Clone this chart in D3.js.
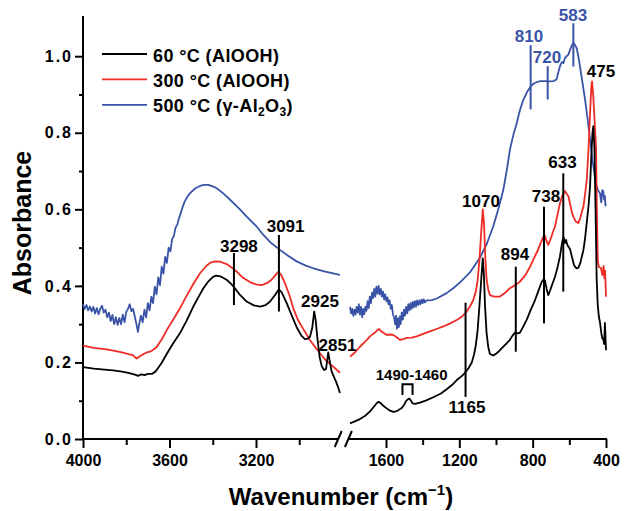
<!DOCTYPE html>
<html>
<head>
<meta charset="utf-8">
<script src="https://cdn.jsdelivr.net/npm/d3@7"></script>
<style>
body { margin: 0; background: #fff; }
svg text { font-family: "Liberation Sans", Arial, Helvetica, sans-serif; font-weight: bold; }
</style>
</head>
<body>
<svg id="chart" width="624" height="511"></svg>
<script>
// series names / colours
var seriesNames = ["60 °C (AlOOH)", "300 °C (AlOOH)", "500 °C (γ-Al2O3)"];
var seriesColors = ["#000000", "#ee2b24", "#3a53a6"];

// spectra, [wavenumber, absorbance], high-wavenumber part (4000-2800)
var black60Left = [[4000,0.188],[3950,0.184],[3900,0.181],[3860,0.179],[3820,0.176],[3790,0.173],[3760,0.168],[3745,0.165],[3730,0.169],[3715,0.167],[3700,0.170],[3682,0.170],[3665,0.176],[3652,0.186],[3635,0.200],[3613,0.222],[3585,0.248],[3552,0.276],[3520,0.310],[3490,0.346],[3465,0.372],[3444,0.393],[3420,0.412],[3400,0.423],[3385,0.427],[3365,0.425],[3336,0.416],[3315,0.405],[3302,0.397],[3275,0.377],[3243,0.359],[3210,0.349],[3182,0.346],[3155,0.350],[3135,0.359],[3112,0.376],[3094,0.391],[3080,0.382],[3058,0.355],[3035,0.323],[3012,0.292],[2990,0.270],[2974,0.261],[2960,0.262],[2950,0.268],[2940,0.290],[2931,0.333],[2924,0.310],[2917,0.268],[2906,0.215],[2896,0.190],[2885,0.180],[2876,0.183],[2866,0.226],[2858,0.200],[2850,0.176],[2840,0.163],[2830,0.150],[2820,0.135],[2812,0.120]];
var red300Left = [[4000,0.244],[3950,0.238],[3900,0.235],[3860,0.231],[3820,0.226],[3790,0.222],[3770,0.219],[3752,0.210],[3740,0.215],[3720,0.222],[3705,0.226],[3690,0.228],[3675,0.233],[3660,0.240],[3648,0.250],[3636,0.260],[3610,0.287],[3582,0.313],[3550,0.343],[3521,0.374],[3490,0.405],[3459,0.433],[3430,0.452],[3410,0.461],[3390,0.464],[3365,0.463],[3336,0.457],[3310,0.447],[3289,0.437],[3260,0.421],[3228,0.410],[3200,0.404],[3174,0.402],[3150,0.407],[3128,0.416],[3110,0.428],[3097,0.437],[3085,0.430],[3066,0.407],[3045,0.375],[3028,0.342],[3005,0.310],[2981,0.287],[2950,0.258],[2920,0.235],[2880,0.207],[2843,0.189],[2812,0.173]];
var blue500Left = [[4000,0.352],[3992,0.340],[3984,0.350],[3976,0.336],[3968,0.346],[3960,0.333],[3952,0.345],[3944,0.328],[3936,0.342],[3928,0.326],[3920,0.340],[3912,0.348],[3904,0.330],[3896,0.338],[3888,0.318],[3880,0.330],[3872,0.308],[3864,0.324],[3856,0.300],[3848,0.318],[3840,0.298],[3832,0.316],[3824,0.300],[3816,0.325],[3808,0.305],[3800,0.332],[3792,0.340],[3784,0.352],[3776,0.334],[3768,0.340],[3760,0.318],[3752,0.298],[3746,0.280],[3740,0.300],[3732,0.322],[3724,0.305],[3716,0.338],[3708,0.318],[3700,0.355],[3692,0.336],[3684,0.372],[3676,0.355],[3668,0.398],[3660,0.378],[3652,0.422],[3644,0.402],[3636,0.450],[3628,0.432],[3620,0.476],[3612,0.460],[3604,0.500],[3596,0.490],[3588,0.522],[3580,0.530],[3572,0.552],[3564,0.560],[3556,0.577],[3548,0.590],[3540,0.605],[3530,0.620],[3515,0.635],[3500,0.645],[3480,0.655],[3459,0.661],[3440,0.664],[3421,0.664],[3400,0.660],[3382,0.655],[3350,0.641],[3320,0.625],[3280,0.603],[3243,0.581],[3200,0.557],[3166,0.533],[3130,0.512],[3089,0.494],[3050,0.478],[3012,0.464],[2970,0.453],[2935,0.446],[2880,0.437],[2812,0.429]];

// low-wavenumber part (1800-400)
var black60Right = [[1796,0.041],[1770,0.046],[1742,0.052],[1715,0.060],[1687,0.072],[1665,0.085],[1650,0.094],[1640,0.097],[1630,0.094],[1615,0.087],[1596,0.080],[1578,0.074],[1560,0.071],[1540,0.073],[1514,0.081],[1500,0.090],[1491,0.099],[1480,0.104],[1473,0.106],[1465,0.101],[1455,0.093],[1440,0.092],[1415,0.095],[1380,0.101],[1342,0.109],[1300,0.119],[1269,0.130],[1240,0.141],[1214,0.154],[1190,0.163],[1169,0.173],[1150,0.185],[1132,0.200],[1120,0.220],[1110,0.245],[1100,0.285],[1090,0.350],[1080,0.420],[1072,0.472],[1066,0.430],[1060,0.350],[1051,0.275],[1042,0.240],[1033,0.222],[1015,0.218],[996,0.224],[978,0.232],[960,0.241],[942,0.250],[924,0.259],[910,0.270],[896,0.278],[880,0.276],[869,0.278],[850,0.295],[832,0.312],[810,0.338],[787,0.363],[770,0.385],[751,0.410],[740,0.417],[733,0.414],[724,0.392],[715,0.376],[705,0.388],[690,0.408],[678,0.424],[665,0.447],[651,0.477],[642,0.505],[636,0.522],[630,0.526],[624,0.512],[618,0.520],[610,0.506],[596,0.496],[585,0.474],[575,0.455],[569,0.450],[560,0.446],[551,0.447],[540,0.460],[530,0.480],[523,0.494],[514,0.525],[505,0.565],[495,0.610],[487,0.660],[480,0.740],[474,0.800],[469,0.817],[463,0.760],[457,0.600],[451,0.420],[445,0.350],[439,0.320],[433,0.305],[425,0.275],[419,0.262],[415,0.262],[410,0.248],[406,0.303],[403,0.270],[400,0.232]];
var red300Right = [[1796,0.215],[1770,0.226],[1742,0.241],[1715,0.254],[1687,0.268],[1660,0.278],[1645,0.285],[1637,0.287],[1625,0.281],[1610,0.276],[1596,0.272],[1580,0.273],[1560,0.272],[1540,0.265],[1524,0.259],[1505,0.261],[1487,0.264],[1460,0.265],[1433,0.268],[1400,0.274],[1360,0.281],[1320,0.288],[1287,0.294],[1250,0.302],[1214,0.311],[1185,0.320],[1160,0.333],[1140,0.348],[1124,0.363],[1110,0.385],[1100,0.415],[1090,0.470],[1080,0.545],[1072,0.600],[1065,0.560],[1058,0.470],[1051,0.416],[1042,0.390],[1033,0.376],[1010,0.372],[978,0.372],[950,0.382],[924,0.394],[895,0.402],[869,0.411],[840,0.428],[814,0.450],[790,0.475],[770,0.495],[760,0.507],[745,0.525],[735,0.533],[725,0.518],[715,0.507],[700,0.525],[690,0.540],[678,0.555],[665,0.585],[651,0.616],[638,0.636],[624,0.648],[614,0.640],[605,0.634],[595,0.612],[585,0.590],[578,0.581],[565,0.568],[551,0.564],[540,0.578],[530,0.596],[523,0.607],[514,0.640],[505,0.677],[495,0.760],[487,0.850],[480,0.920],[476,0.934],[470,0.900],[462,0.830],[454,0.756],[450,0.600],[445,0.470],[440,0.450],[433,0.448],[427,0.446],[420,0.428],[416,0.440],[413,0.452],[409,0.420],[405,0.440],[400,0.372]];
var blue500Right = [[1796,0.345],[1790,0.328],[1784,0.340],[1778,0.322],[1772,0.338],[1766,0.325],[1760,0.345],[1754,0.330],[1748,0.352],[1742,0.325],[1736,0.345],[1730,0.318],[1724,0.340],[1718,0.326],[1712,0.346],[1706,0.335],[1700,0.360],[1694,0.342],[1688,0.372],[1682,0.355],[1676,0.382],[1670,0.368],[1664,0.392],[1658,0.372],[1652,0.398],[1646,0.380],[1640,0.400],[1634,0.378],[1628,0.392],[1622,0.372],[1616,0.385],[1610,0.365],[1604,0.378],[1598,0.360],[1592,0.370],[1586,0.352],[1580,0.362],[1574,0.340],[1568,0.350],[1562,0.326],[1556,0.318],[1550,0.300],[1545,0.322],[1540,0.288],[1535,0.315],[1530,0.292],[1525,0.320],[1520,0.300],[1514,0.330],[1508,0.312],[1502,0.338],[1496,0.322],[1490,0.345],[1484,0.328],[1478,0.352],[1472,0.336],[1466,0.355],[1460,0.340],[1454,0.358],[1448,0.344],[1442,0.360],[1436,0.346],[1430,0.362],[1424,0.350],[1418,0.362],[1412,0.352],[1406,0.364],[1400,0.355],[1394,0.365],[1388,0.357],[1378,0.362],[1350,0.363],[1323,0.367],[1269,0.381],[1230,0.395],[1196,0.409],[1142,0.435],[1087,0.474],[1050,0.510],[1015,0.555],[985,0.605],[960,0.651],[940,0.705],[924,0.756],[905,0.795],[887,0.825],[870,0.858],[851,0.886],[830,0.907],[811,0.921],[790,0.930],[760,0.935],[730,0.935],[705,0.934],[685,0.935],[669,0.940],[660,0.958],[651,0.974],[640,0.985],[632,0.982],[624,0.995],[615,1.000],[605,1.004],[595,1.018],[585,1.030],[578,1.034],[570,1.030],[560,1.021],[551,1.000],[542,0.974],[528,0.930],[514,0.886],[500,0.835],[487,0.782],[469,0.712],[460,0.683],[451,0.660],[442,0.648],[433,0.642],[426,0.618],[420,0.650],[415,0.647],[410,0.625],[406,0.635],[403,0.610],[400,0.615]];

// axis ticks
var absTicks = [0, 0.2, 0.4, 0.6, 0.8, 1.0];
var absMinor = [0.1, 0.3, 0.5, 0.7, 0.9];
var wnTicksLeft = [4000, 3600, 3200];
var wnMinorLeft = [3800, 3400, 3000];
var wnTicksRight = [1600, 1200, 800, 400];
var wnMinorRight = [1400, 1000, 600];

// peak labels: series index, segment, text, line at wn from a1 to a2, text anchor (tw, ta)
var peakMarks = [
    {s:0, seg:"L", text:"3298", wn:3302, a1:0.486, a2:0.350, tw:3279, ta:0.489},
    {s:0, seg:"L", text:"3091", wn:3094, a1:0.533, a2:0.333, tw:3063, ta:0.542},
    {s:0, seg:"L", text:"2925", wn:null, tw:2904, ta:0.346},
    {s:0, seg:"L", text:"2851", wn:null, tw:2823, ta:0.231},
    {s:0, seg:"R", text:"1165", wn:1166, a1:0.356, a2:0.110, tw:1158, ta:0.067},
    {s:0, seg:"R", text:"1070", wn:null, tw:1082, ta:0.607},
    {s:0, seg:"R", text:"894", wn:892, a1:0.450, a2:0.228, tw:896, ta:0.468},
    {s:0, seg:"R", text:"738", wn:738, a1:0.607, a2:0.302, tw:727, ta:0.620},
    {s:0, seg:"R", text:"633", wn:633, a1:0.694, a2:0.385, tw:637, ta:0.707},
    {s:0, seg:"R", text:"475", wn:null, tw:427, ta:0.945},
    {s:2, seg:"R", text:"810", wn:811, a1:1.029, a2:0.861, tw:820, ta:1.036},
    {s:2, seg:"R", text:"720", wn:718, a1:0.974, a2:0.887, tw:722, ta:0.981},
    {s:2, seg:"R", text:"583", wn:578, a1:1.086, a2:0.973, tw:580, ta:1.093}
];
// bracket over the 1490-1460 doublet
var bracket = {text:"1490-1460", w1:1510, w2:1455, top:0.143, bottom:0.115, tw:1460, ta:0.154};

var svg = d3.select("#chart");
var y = d3.scaleLinear().domain([0, 1.105]).range([439, 16]);
var xL = d3.scaleLinear().domain([4000, 2800]).range([83, 342.5]);
var xR = d3.scaleLinear().domain([1800, 400]).range([349.3, 606]);
function xs(seg) { return seg == "L" ? xL : xR; }

// y axis
var yAxis = svg.append("g").attr("transform", "translate(" + xL(4000) + ",0)");
yAxis.call(d3.axisLeft(y).tickValues(absTicks).tickSize(8).tickPadding(2)
    .tickFormat(d3.format(".1f")));
yAxis.append("g").call(d3.axisLeft(y).tickValues(absMinor).tickSize(4).tickFormat(""));
yAxis.selectAll(".domain").remove();
yAxis.append("line").attr("y1", y(0) + 1).attr("y2", y(1.105)).attr("stroke", "#000");

// x axis, broken
var axL = svg.append("g").attr("transform", "translate(0," + y(0) + ")");
axL.call(d3.axisBottom(xL).tickValues(wnTicksLeft).tickSize(9).tickPadding(7).tickFormat(d3.format("d")));
axL.append("g").call(d3.axisBottom(xL).tickValues(wnMinorLeft).tickSize(6).tickFormat(""));
var axR = svg.append("g").attr("transform", "translate(0," + y(0) + ")");
axR.call(d3.axisBottom(xR).tickValues(wnTicksRight).tickSize(9).tickPadding(7).tickFormat(d3.format("d")));
axR.append("g").call(d3.axisBottom(xR).tickValues(wnMinorRight).tickSize(6).tickFormat(""));
svg.selectAll(".domain").remove();
axL.append("line").attr("x1", xL(4000) - 1).attr("x2", xL(2820)).attr("stroke", "#000");
axR.append("line").attr("x1", xR(1805)).attr("x2", xR(400) + 1).attr("stroke", "#000");
// break marks
[xL(2820), xR(1805)].forEach(function (bx) {
    axR.append("line").attr("x1", bx - 3.5).attr("y1", 8).attr("x2", bx + 3.5).attr("y2", -8)
        .attr("stroke", "#000").attr("stroke-width", 1.6);
});

svg.selectAll(".tick line, g > line").attr("stroke-width", 2).attr("stroke", "#000");
svg.selectAll(".tick text").attr("font-size", 16).attr("fill", "#000")
    .attr("font-family", "'Liberation Sans', Arial, sans-serif").attr("font-weight", "bold");
yAxis.selectAll(".tick text").attr("letter-spacing", 2);

// axis titles
svg.append("text").attr("transform", "translate(31,223) rotate(-90)")
    .attr("text-anchor", "middle").attr("font-size", 25).text("Absorbance");
var xt = svg.append("text").attr("x", 341).attr("y", 505).attr("text-anchor", "middle").attr("font-size", 24);
xt.append("tspan").text("Wavenumber (cm");
xt.append("tspan").attr("font-size", 15).attr("dy", -10).text("−1");
xt.append("tspan").attr("dy", 10).text(")");

// spectra
var lineL = d3.line().x(function (d) { return xL(d[0]); }).y(function (d) { return y(d[1]); });
var lineR = d3.line().x(function (d) { return xR(d[0]); }).y(function (d) { return y(d[1]); });
var leftSets = [black60Left, red300Left, blue500Left];
var rightSets = [black60Right, red300Right, blue500Right];
[2, 1, 0].forEach(function (i) {
    svg.append("path").datum(leftSets[i]).attr("d", lineL)
        .attr("fill", "none").attr("stroke", seriesColors[i]).attr("stroke-width", 1.8)
        .attr("stroke-linejoin", "round");
    svg.append("path").datum(rightSets[i]).attr("d", lineR)
        .attr("fill", "none").attr("stroke", seriesColors[i]).attr("stroke-width", 1.8)
        .attr("stroke-linejoin", "round");
});

// peak labels
peakMarks.forEach(function (p) {
    var sx = xs(p.seg);
    if (p.wn !== null) {
        svg.append("line").attr("x1", sx(p.wn)).attr("x2", sx(p.wn))
            .attr("y1", y(p.a1)).attr("y2", y(p.a2))
            .attr("stroke", seriesColors[p.s]).attr("stroke-width", 2);
    }
    svg.append("text").attr("x", sx(p.tw)).attr("y", y(p.ta))
        .attr("text-anchor", "middle").attr("font-size", 17)
        .attr("fill", seriesColors[p.s]).text(p.text);
});
svg.append("path")
    .attr("d", "M" + xR(bracket.w1) + "," + y(bracket.bottom) + "V" + y(bracket.top) +
        "H" + xR(bracket.w2) + "V" + y(bracket.bottom))
    .attr("fill", "none").attr("stroke", "#000").attr("stroke-width", 2);
svg.append("text").attr("x", xR(bracket.tw)).attr("y", y(bracket.ta))
    .attr("text-anchor", "middle").attr("font-size", 15).text(bracket.text);

// legend
var legend = svg.append("g").attr("transform", "translate(102,54)");
seriesNames.forEach(function (name, i) {
    var row = legend.append("g").attr("transform", "translate(0," + (i * 25.4) + ")");
    row.append("line").attr("x1", 0).attr("x2", 45)
        .attr("stroke", seriesColors[i]).attr("stroke-width", 1.8);
    var t = row.append("text").attr("x", 51).attr("y", 7.5).attr("font-size", 18)
        .attr("letter-spacing", 0.4);
    if (name.indexOf("Al2O3") > 0) {
        t.append("tspan").text("500 °C (γ-Al");
        t.append("tspan").attr("font-size", 12).attr("dy", 4).text("2");
        t.append("tspan").attr("dy", -4).text("O");
        t.append("tspan").attr("font-size", 12).attr("dy", 4).text("3");
        t.append("tspan").attr("dy", -4).text(")");
    } else {
        t.text(name);
    }
});
</script>
</body>
</html>
